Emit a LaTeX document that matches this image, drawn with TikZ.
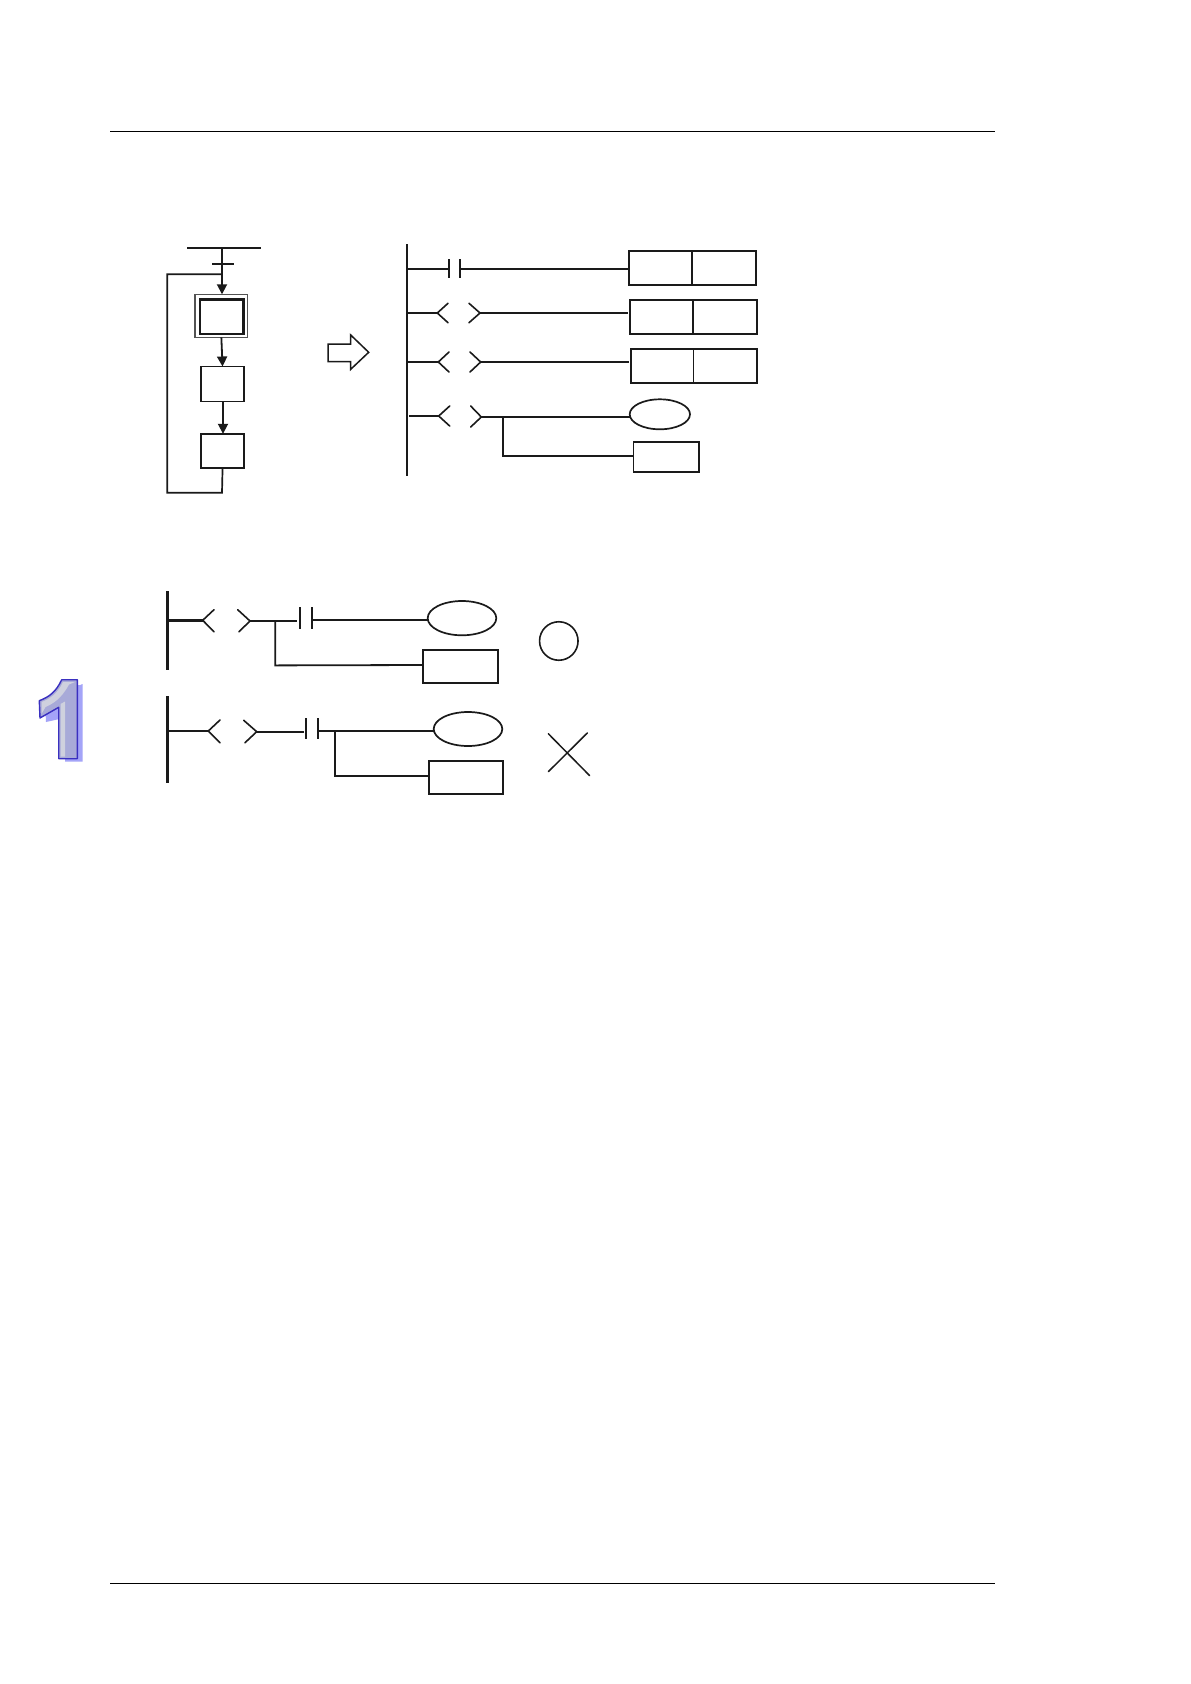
\documentclass[tikz,border=0pt]{standalone}
\usetikzlibrary{arrows.meta,shapes.geometric}
\definecolor{ink}{HTML}{1A1A1A}
\definecolor{numedge}{HTML}{3A30C0}
\definecolor{numfill}{HTML}{A8AAD8}
\definecolor{numlite}{HTML}{CFD1DE}
\definecolor{numshade}{HTML}{A4A4F8}
\tikzset{
  wire/.style={draw=ink,line width=1.8pt},
  thinwire/.style={draw=ink,line width=1.7pt},
  busbar/.style={draw=ink,line width=2pt},
  heavybus/.style={draw=ink,line width=3pt},
  flow/.style={draw=ink,line width=1.8pt,-{Triangle[length=10pt,width=10pt,fill=ink]},shorten >=0pt},
  rule/.style={draw=black,line width=0.9pt},
  chev/.style={draw=ink,line width=1.6pt,line cap=round},
  boxn/.style={rectangle,draw=ink,line width=1.8pt,inner sep=0pt,outer sep=0pt},
  ovaln/.style={ellipse,draw=ink,line width=1.7pt,inner sep=0pt,outer sep=0pt},
}
\newcommand{\pbox}[6][boxn]{%
  \pgfmathsetmacro{\pw}{#5-#3}\pgfmathsetmacro{\ph}{#6-#4}%
  \pgfmathsetmacro{\pcx}{(#5+#3)/2}\pgfmathsetmacro{\pcy}{(#6+#4)/2}%
  \node[#1,minimum width=\pw pt,minimum height=\ph pt] (#2) at (\pcx,\pcy) {};}
\begin{document}
\begin{tikzpicture}[x=1pt,y=-1pt]
\useasboundingbox (0,0) rectangle (1191,1684);
\fill[white] (0,0) rectangle (1191,1684);
% page rules
\coordinate (rt1) at (110,131.5); \coordinate (rt2) at (995,131.5);
\coordinate (rb1) at (110,1583.5); \coordinate (rb2) at (995,1583.5);
\draw[rule] (rt1) -- (rt2);
\draw[rule] (rb1) -- (rb2);
% SFC
\coordinate (tbL) at (187,248); \coordinate (tbR) at (261,248); \coordinate (tbM) at (222,248);
\coordinate (tkL) at (212,263.7); \coordinate (tkR) at (234,263.7);
\coordinate (lpT) at (222,274.3); \coordinate (lpTL) at (167.3,274.3);
\coordinate (lpBL) at (167.3,492.7); \coordinate (lpBR) at (222,492.7);
\draw[wire] (tbL) -- (tbR);
\draw[wire] (tkL) -- (tkR);
\pbox[boxn,line width=1.5pt,draw=ink!75]{outer}{195}{294.3}{247.7}{337.3}
\pbox[boxn,line width=2.4pt]{inner}{200}{299.6}{243.4}{333.7}
\pbox{s2}{200.8}{366.5}{244.3}{401.5}
\pbox{s3}{200.8}{433.8}{244.3}{468.3}
\draw[flow] (tbM) -- (outer.north -| tbM);
\draw[flow] (outer.south) -- (s2.north);
\coordinate (s2o) at (223,401.5);\coordinate (s3i) at (223,433.8);
\draw[flow] (s2o) -- (s3i);
\draw[thinwire] (lpT) -- (lpTL) -- (lpBL) -- (lpBR) -- (s3.south);
% hollow arrow
\draw[ink,line width=1.5pt,miter limit=10] (328,344) -- (350.7,344) -- (350.7,335) -- (368.7,352.3) -- (350.7,369.3) -- (350.7,361.7) -- (328,361.7) -- cycle;
% ladder 1
\coordinate (bt) at (406.7,244); \coordinate (bb) at (406.7,475.7);
\draw[busbar] (bt) -- (bb);
\pbox{b1}{628.7}{251}{756.3}{285}
\pbox{b2}{629.7}{299.7}{757.3}{334}
\pbox{b3}{630.6}{348.7}{757.3}{383}
\draw[wire] (691.7,251) -- (691.7,285);
\draw[wire] (693,299.7) -- (693,334);
\draw[draw=ink,line width=1pt] (693.7,348.7) -- (693.7,383);
\pbox[ovaln]{e1}{629.7}{399.3}{690}{429.3}
\pbox[boxn,line width=1.6pt]{b4}{633.3}{442}{699}{471.7}
% rung 1
\coordinate (r1a) at (406.7,268.7); \coordinate (r1b) at (449,268.7); \coordinate (r1c) at (460,268.7);
\coordinate (r1e) at (628.7,268.7);
\draw[wire] (r1a) -- (r1b);
\draw[wire] (r1c) -- (r1e);
\draw[wire] (449,259) -- (449,277.7);
\draw[wire] (460,259) -- (460,277.7);
% rung 2
\coordinate (r2a) at (406.7,313); \coordinate (r2b) at (437.3,313); \coordinate (r2c) at (480,313); \coordinate (r2e) at (628,313);
\draw[wire] (r2a) -- (r2b);
\draw[wire] (r2c) -- (r2e);
\draw[chev] (448,303.3) -- (r2b) -- (448,322.7);
\draw[chev] (469,303.3) -- (r2c) -- (469,322.7);
% rung 3
\coordinate (r3a) at (406.7,362); \coordinate (r3b) at (438.3,362); \coordinate (r3c) at (480.7,362); \coordinate (r3e) at (629.3,362);
\draw[wire] (r3a) -- (r3b);
\draw[wire] (r3c) -- (r3e);
\draw[chev] (449,352) -- (r3b) -- (449,372);
\draw[chev] (470,352) -- (r3c) -- (470,372);
% rung 4
\coordinate (r4a) at (409,416); \coordinate (r4b) at (438.7,416); \coordinate (r4c) at (481.3,417); \coordinate (r4j) at (503.3,417); \coordinate (r4k) at (503.3,455.7); \coordinate (r4e) at (629.7,417); \coordinate (r4f) at (633.3,455.7);
\draw[wire] (r4a) -- (r4b);
\draw[wire] (r4c) -- (r4e);
\draw[thinwire] (r4j) -- (r4k) -- (r4f);
\draw[chev] (449.7,406) -- (r4b) -- (449.7,426);
\draw[chev] (470.7,406) -- (r4c) -- (470.7,427);
% ladder 2
\coordinate (l2t) at (167.3,591.3); \coordinate (l2b) at (167.3,669.8);
\draw[heavybus] (l2t) -- (l2b);
\pbox[ovaln]{e2}{427.7}{601}{496.3}{635.3}
\pbox[boxn,line width=1.8pt]{b5}{422.7}{649.7}{497.7}{683.3}
\coordinate (a1) at (167.3,620.3); \coordinate (a2) at (202.7,620.3); \coordinate (a3) at (250,621); \coordinate (a4) at (297.3,621);
\coordinate (a5) at (311.7,620); \coordinate (a6) at (427.7,620); \coordinate (aj) at (275.3,621); \coordinate (ak) at (275.3,665.4); \coordinate (am) at (422.7,665);
\draw[draw=ink,line width=2.6pt] (a1) -- (a2);
\draw[wire] (a3) -- (a4);
\draw[wire] (a5) -- (a6);
\draw[wire] (aj) -- (ak) -- (am);
\draw[chev] (214,609.7) -- (a2) -- (214,631.7);
\draw[chev] (237.7,609.7) -- (a3) -- (239,631.7);
\draw[wire] (300,607) -- (300,629);
\draw[wire] (311.7,607) -- (311.7,629);
% ladder 3
\coordinate (l3t) at (167.3,696); \coordinate (l3b) at (167.3,782.7);
\draw[heavybus] (l3t) -- (l3b);
\pbox[ovaln]{e3}{433.7}{712}{502.3}{746}
\pbox[boxn,line width=2pt]{b6}{428.7}{760.6}{503.2}{794}
\coordinate (c1) at (167.3,731); \coordinate (c2) at (208.3,731); \coordinate (c3) at (256.7,731.7); \coordinate (c4) at (304,731.7);
\coordinate (c5) at (318.3,730.7); \coordinate (c6) at (433.7,730.7); \coordinate (cj) at (334.7,730.7); \coordinate (ck) at (334.7,776); \coordinate (cm) at (428.7,776);
\draw[wire] (c1) -- (c2);
\draw[wire] (c3) -- (c4);
\draw[wire] (c5) -- (c6);
\draw[thinwire] (cj) -- (ck) -- (cm);
\draw[chev] (220,720) -- (c2) -- (220,742.7);
\draw[chev] (243.7,720.3) -- (c3) -- (245,742.7);
\draw[wire] (306,718) -- (306,739.3);
\draw[wire] (318.3,718) -- (318.3,739.3);
% marks
\node[circle,draw=ink,line width=1.6pt,minimum size=38.5pt,inner sep=0pt] (okmark) at (558.8,641) {};
\coordinate (x1) at (548.3,733.7); \coordinate (x2) at (589.7,775.7);
\coordinate (x3) at (548.3,771.7); \coordinate (x4) at (587.3,733);
\draw[chev,line width=1.5pt] (x1) -- (x2);
\draw[chev,line width=1.5pt] (x3) -- (x4);
% chapter number
\fill[numshade] (65,692) -- (82.5,684) -- (82.5,761.5) -- (65,761.5) -- cycle;
\fill[numshade] (45,703) .. controls (55,700) and (62,694) .. (67,685) -- (80,685) -- (80,700) -- (64,718) -- (46,722) -- cycle;
\path[fill=numfill,draw=numedge,line width=1.4pt,line join=round] (77.3,679.7) -- (77.3,758.7) -- (58.7,758.7) -- (58.7,707.3) -- (40,718) -- (39.3,700.7) .. controls (49,697) and (56,692) .. (61.7,679.7) -- cycle;
\fill[numlite] (41.5,702) .. controls (50,699) and (58,693) .. (63,682) -- (75,682) -- (69,684.5) .. controls (65,692) and (58,702) .. (45.5,707) -- (41.5,714) -- cycle;
\fill[numlite] (60.5,704) -- (65,701.5) -- (65,756.5) -- (60.5,756.5) -- cycle;
\end{tikzpicture}
\end{document}
